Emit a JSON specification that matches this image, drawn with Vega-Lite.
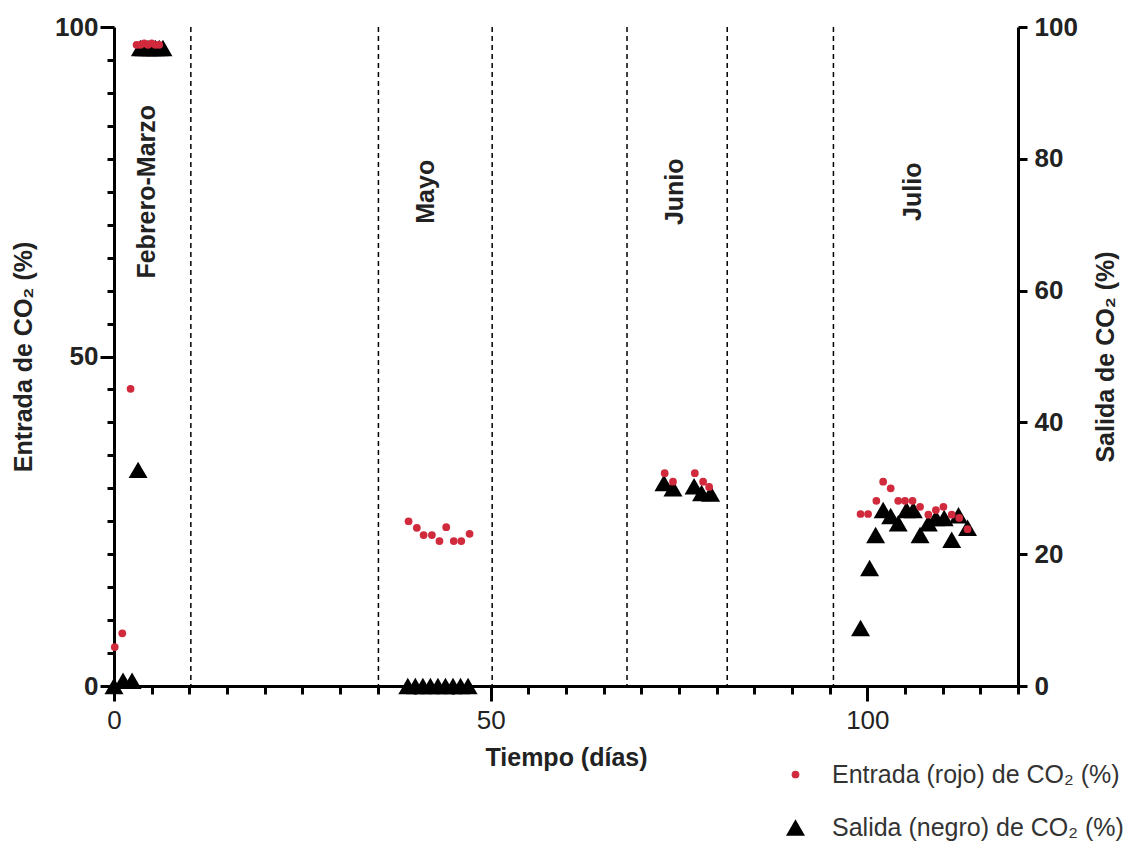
{
  "$schema": "https://vega.github.io/schema/vega-lite/v6.json",
  "width": 904,
  "height": 659,
  "autosize": {"type": "none"},
  "padding": {"left": 114, "top": 27, "right": 116, "bottom": 155},
  "background": "white",
  "config": {
    "view": {"stroke": null},
    "font": "Liberation Sans",
    "axis": {
      "grid": false,
      "domainColor": "#000000",
      "tickColor": "#000000",
      "domainWidth": 3,
      "tickWidth": 3,
      "labelColor": "#222222",
      "titleColor": "#222222",
      "labelFont": "Liberation Sans",
      "titleFont": "Liberation Sans",
      "labelFontSize": 26,
      "titleFontSize": 25,
      "titleFontWeight": "bold",
      "labelFontWeight": "bold",
      "labelFlush": false,
      "labelOverlap": false
    },
    "legend": {
      "orient": "none",
      "legendX": 669,
      "legendY": 735,
      "padding": 0,
      "labelFont": "Liberation Sans",
      "labelFontSize": 25,
      "labelColor": "#333333",
      "rowPadding": 27,
      "labelOffset": 24,
      "symbolStrokeWidth": 0,
      "labelLimit": 400
    }
  },
  "datasets": {
    "lineas": [
      {"dia": 10.2}, {"dia": 35.1}, {"dia": 50.2}, {"dia": 68.1}, {"dia": 81.4}, {"dia": 95.5}
    ],
    "meses": [
      {"dia": 4.4, "y": 75, "mes": "Febrero-Marzo"},
      {"dia": 41.4, "y": 75, "mes": "Mayo"},
      {"dia": 74.5, "y": 75, "mes": "Junio"},
      {"dia": 106.0, "y": 75, "mes": "Julio"}
    ],
    "entrada": [
      {"dia": 0.1, "valor": 5.9, "serie": "Entrada (rojo) de CO₂ (%)"},
      {"dia": 1.1, "valor": 8.0, "serie": "Entrada (rojo) de CO₂ (%)"},
      {"dia": 2.2, "valor": 45.1, "serie": "Entrada (rojo) de CO₂ (%)"},
      {"dia": 3.0, "valor": 97.3, "serie": "Entrada (rojo) de CO₂ (%)"},
      {"dia": 3.5, "valor": 97.3, "serie": "Entrada (rojo) de CO₂ (%)"},
      {"dia": 4.0, "valor": 97.5, "serie": "Entrada (rojo) de CO₂ (%)"},
      {"dia": 4.5, "valor": 97.3, "serie": "Entrada (rojo) de CO₂ (%)"},
      {"dia": 5.0, "valor": 97.5, "serie": "Entrada (rojo) de CO₂ (%)"},
      {"dia": 5.5, "valor": 97.3, "serie": "Entrada (rojo) de CO₂ (%)"},
      {"dia": 6.0, "valor": 97.3, "serie": "Entrada (rojo) de CO₂ (%)"},
      {"dia": 39.1, "valor": 25.0, "serie": "Entrada (rojo) de CO₂ (%)"},
      {"dia": 40.2, "valor": 24.0, "serie": "Entrada (rojo) de CO₂ (%)"},
      {"dia": 41.1, "valor": 22.9, "serie": "Entrada (rojo) de CO₂ (%)"},
      {"dia": 42.2, "valor": 22.9, "serie": "Entrada (rojo) de CO₂ (%)"},
      {"dia": 43.2, "valor": 22.0, "serie": "Entrada (rojo) de CO₂ (%)"},
      {"dia": 44.1, "valor": 24.1, "serie": "Entrada (rojo) de CO₂ (%)"},
      {"dia": 45.1, "valor": 22.0, "serie": "Entrada (rojo) de CO₂ (%)"},
      {"dia": 46.1, "valor": 22.0, "serie": "Entrada (rojo) de CO₂ (%)"},
      {"dia": 47.2, "valor": 23.1, "serie": "Entrada (rojo) de CO₂ (%)"},
      {"dia": 73.1, "valor": 32.3, "serie": "Entrada (rojo) de CO₂ (%)"},
      {"dia": 74.2, "valor": 31.0, "serie": "Entrada (rojo) de CO₂ (%)"},
      {"dia": 77.1, "valor": 32.3, "serie": "Entrada (rojo) de CO₂ (%)"},
      {"dia": 78.2, "valor": 31.0, "serie": "Entrada (rojo) de CO₂ (%)"},
      {"dia": 79.0, "valor": 30.2, "serie": "Entrada (rojo) de CO₂ (%)"},
      {"dia": 99.1, "valor": 26.1, "serie": "Entrada (rojo) de CO₂ (%)"},
      {"dia": 100.1, "valor": 26.1, "serie": "Entrada (rojo) de CO₂ (%)"},
      {"dia": 101.2, "valor": 28.1, "serie": "Entrada (rojo) de CO₂ (%)"},
      {"dia": 102.1, "valor": 31.0, "serie": "Entrada (rojo) de CO₂ (%)"},
      {"dia": 103.1, "valor": 30.0, "serie": "Entrada (rojo) de CO₂ (%)"},
      {"dia": 104.1, "valor": 28.1, "serie": "Entrada (rojo) de CO₂ (%)"},
      {"dia": 105.0, "valor": 28.1, "serie": "Entrada (rojo) de CO₂ (%)"},
      {"dia": 106.0, "valor": 28.1, "serie": "Entrada (rojo) de CO₂ (%)"},
      {"dia": 107.0, "valor": 27.2, "serie": "Entrada (rojo) de CO₂ (%)"},
      {"dia": 108.1, "valor": 26.0, "serie": "Entrada (rojo) de CO₂ (%)"},
      {"dia": 109.1, "valor": 26.7, "serie": "Entrada (rojo) de CO₂ (%)"},
      {"dia": 110.1, "valor": 27.2, "serie": "Entrada (rojo) de CO₂ (%)"},
      {"dia": 111.2, "valor": 26.0, "serie": "Entrada (rojo) de CO₂ (%)"},
      {"dia": 112.2, "valor": 25.5, "serie": "Entrada (rojo) de CO₂ (%)"},
      {"dia": 113.3, "valor": 23.8, "serie": "Entrada (rojo) de CO₂ (%)"}
    ],
    "salida": [
      {"dia": 0.0, "valor": 0.0, "serie": "Salida (negro) de CO₂ (%)"},
      {"dia": 1.2, "valor": 0.8, "serie": "Salida (negro) de CO₂ (%)"},
      {"dia": 2.4, "valor": 0.8, "serie": "Salida (negro) de CO₂ (%)"},
      {"dia": 3.2, "valor": 32.8, "serie": "Salida (negro) de CO₂ (%)"},
      {"dia": 3.5, "valor": 96.8, "serie": "Salida (negro) de CO₂ (%)"},
      {"dia": 4.0, "valor": 96.8, "serie": "Salida (negro) de CO₂ (%)"},
      {"dia": 4.5, "valor": 96.8, "serie": "Salida (negro) de CO₂ (%)"},
      {"dia": 5.0, "valor": 96.8, "serie": "Salida (negro) de CO₂ (%)"},
      {"dia": 5.5, "valor": 96.8, "serie": "Salida (negro) de CO₂ (%)"},
      {"dia": 6.0, "valor": 96.8, "serie": "Salida (negro) de CO₂ (%)"},
      {"dia": 6.5, "valor": 96.8, "serie": "Salida (negro) de CO₂ (%)"},
      {"dia": 39, "valor": 0, "serie": "Salida (negro) de CO₂ (%)"},
      {"dia": 40, "valor": 0, "serie": "Salida (negro) de CO₂ (%)"},
      {"dia": 41, "valor": 0, "serie": "Salida (negro) de CO₂ (%)"},
      {"dia": 42, "valor": 0, "serie": "Salida (negro) de CO₂ (%)"},
      {"dia": 43, "valor": 0, "serie": "Salida (negro) de CO₂ (%)"},
      {"dia": 44, "valor": 0, "serie": "Salida (negro) de CO₂ (%)"},
      {"dia": 45, "valor": 0, "serie": "Salida (negro) de CO₂ (%)"},
      {"dia": 46, "valor": 0, "serie": "Salida (negro) de CO₂ (%)"},
      {"dia": 47, "valor": 0, "serie": "Salida (negro) de CO₂ (%)"},
      {"dia": 73.0, "valor": 30.8, "serie": "Salida (negro) de CO₂ (%)"},
      {"dia": 74.2, "valor": 30.0, "serie": "Salida (negro) de CO₂ (%)"},
      {"dia": 77.0, "valor": 30.3, "serie": "Salida (negro) de CO₂ (%)"},
      {"dia": 78.0, "valor": 29.3, "serie": "Salida (negro) de CO₂ (%)"},
      {"dia": 79.2, "valor": 29.2, "serie": "Salida (negro) de CO₂ (%)"},
      {"dia": 99.1, "valor": 8.8, "serie": "Salida (negro) de CO₂ (%)"},
      {"dia": 100.3, "valor": 17.9, "serie": "Salida (negro) de CO₂ (%)"},
      {"dia": 101.1, "valor": 22.9, "serie": "Salida (negro) de CO₂ (%)"},
      {"dia": 102.1, "valor": 26.7, "serie": "Salida (negro) de CO₂ (%)"},
      {"dia": 103.1, "valor": 25.8, "serie": "Salida (negro) de CO₂ (%)"},
      {"dia": 104.1, "valor": 24.7, "serie": "Salida (negro) de CO₂ (%)"},
      {"dia": 105.2, "valor": 26.7, "serie": "Salida (negro) de CO₂ (%)"},
      {"dia": 106.1, "valor": 26.7, "serie": "Salida (negro) de CO₂ (%)"},
      {"dia": 107.0, "valor": 22.9, "serie": "Salida (negro) de CO₂ (%)"},
      {"dia": 108.1, "valor": 24.7, "serie": "Salida (negro) de CO₂ (%)"},
      {"dia": 109.1, "valor": 25.5, "serie": "Salida (negro) de CO₂ (%)"},
      {"dia": 110.2, "valor": 25.5, "serie": "Salida (negro) de CO₂ (%)"},
      {"dia": 111.2, "valor": 22.2, "serie": "Salida (negro) de CO₂ (%)"},
      {"dia": 112.1, "valor": 25.9, "serie": "Salida (negro) de CO₂ (%)"},
      {"dia": 113.3, "valor": 24.0, "serie": "Salida (negro) de CO₂ (%)"}
    ]
  },
  "encoding": {
    "x": {
      "field": "dia",
      "type": "quantitative",
      "scale": {"domain": [0, 120], "nice": false, "zero": false},
      "axis": {
        "title": "Tiempo (días)",
        "values": [0, 5, 10, 15, 20, 25, 30, 35, 40, 45, 50, 55, 60, 65, 70, 75, 80, 85, 90, 95, 100, 105, 110, 115, 120],
        "labelExpr": "datum.value % 50 === 0 ? datum.label : ''",
        "tickSize": {"condition": {"test": "datum.value % 50 === 0", "value": 15}, "value": 8},
        "labelPadding": 6,
        "labelFontWeight": "normal",
        "titlePadding": 12
      }
    }
  },
  "layer": [
    {
      "data": {"name": "lineas"},
      "mark": {"type": "rule", "color": "#000000", "strokeWidth": 1.5, "strokeDash": [5, 4]},
      "encoding": {}
    },
    {
      "data": {"name": "meses"},
      "mark": {"type": "text", "angle": 270, "align": "center", "baseline": "middle", "font": "Liberation Sans", "fontSize": 25, "fontWeight": "bold", "color": "#222222"},
      "encoding": {
        "y": {"field": "y", "type": "quantitative", "scale": {"domain": [0, 100], "nice": false}, "axis": null},
        "text": {"field": "mes"}
      }
    },
    {
      "data": {"name": "salida"},
      "mark": {"type": "point", "filled": true, "opacity": 1, "strokeWidth": 0},
      "encoding": {
        "y": {
          "field": "valor",
          "type": "quantitative",
          "scale": {"domain": [0, 100], "nice": false},
          "axis": {
            "orient": "right",
            "title": "Salida de CO₂ (%)",
            "titleAngle": 270,
            "values": [0, 20, 40, 60, 80, 100],
            "tickSize": 9,
            "labelPadding": 7,
            "titlePadding": 41
          }
        },
        "color": {"field": "serie", "type": "nominal", "title": null, "scale": {"domain": ["Entrada (rojo) de CO₂ (%)", "Salida (negro) de CO₂ (%)"], "range": ["#d02a3c", "#000000"]}},
        "shape": {"field": "serie", "type": "nominal", "title": null, "scale": {"domain": ["Entrada (rojo) de CO₂ (%)", "Salida (negro) de CO₂ (%)"], "range": ["circle", "triangle-up"]}},
        "size": {"field": "serie", "type": "nominal", "title": null, "scale": {"domain": ["Entrada (rojo) de CO₂ (%)", "Salida (negro) de CO₂ (%)"], "range": [60, 360]}}
      }
    },
    {
      "data": {"name": "entrada"},
      "mark": {"type": "point", "filled": true, "opacity": 1, "strokeWidth": 0},
      "encoding": {
        "y": {
          "field": "valor",
          "type": "quantitative",
          "scale": {"domain": [0, 100], "nice": false},
          "axis": {
            "orient": "left",
            "title": "Entrada de CO₂ (%)",
            "values": [0, 5, 10, 15, 20, 25, 30, 35, 40, 45, 50, 55, 60, 65, 70, 75, 80, 85, 90, 95, 100],
            "labelExpr": "datum.value % 50 === 0 ? datum.label : ''",
            "tickSize": {"condition": {"test": "datum.value % 50 === 0", "value": 14}, "value": 7},
            "labelPadding": 2,
            "titlePadding": 18
          }
        },
        "color": {"field": "serie", "type": "nominal", "title": null, "scale": {"domain": ["Entrada (rojo) de CO₂ (%)", "Salida (negro) de CO₂ (%)"], "range": ["#d02a3c", "#000000"]}},
        "shape": {"field": "serie", "type": "nominal", "title": null, "scale": {"domain": ["Entrada (rojo) de CO₂ (%)", "Salida (negro) de CO₂ (%)"], "range": ["circle", "triangle-up"]}},
        "size": {"field": "serie", "type": "nominal", "title": null, "scale": {"domain": ["Entrada (rojo) de CO₂ (%)", "Salida (negro) de CO₂ (%)"], "range": [60, 360]}}
      }
    }
  ],
  "resolve": {"scale": {"y": "independent"}}
}
